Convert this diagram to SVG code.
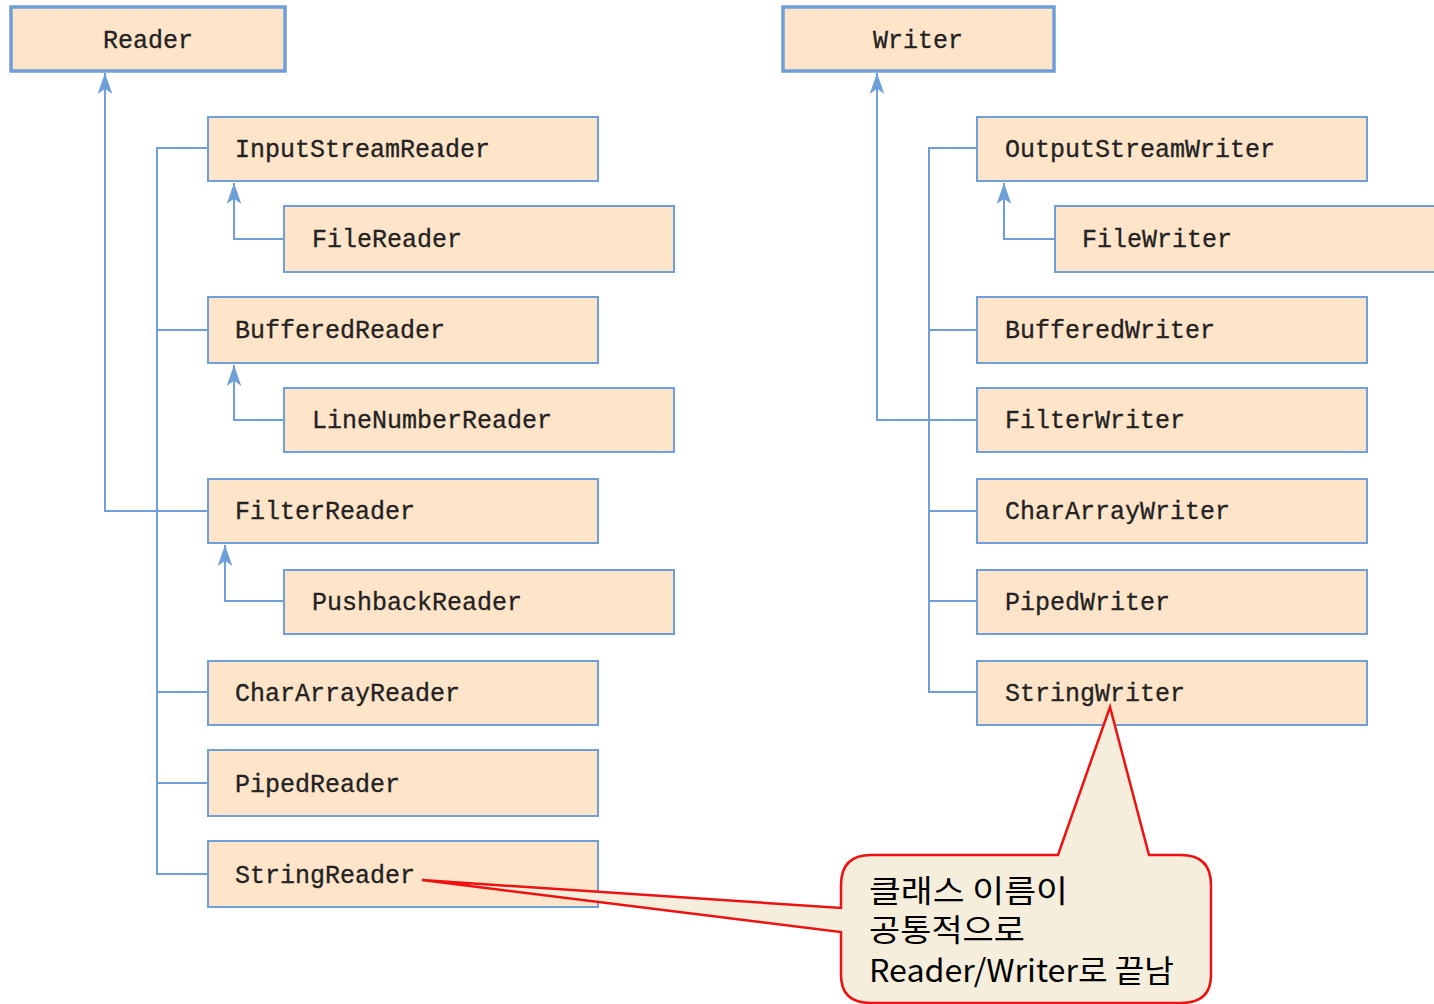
<svg xmlns="http://www.w3.org/2000/svg" width="1434" height="1004" viewBox="0 0 1434 1004">
<style>
.box{fill:#FEE4C9;stroke:#6F9FD8;stroke-width:2}
.root{fill:#FEE4C9;stroke:#6F9FD8;stroke-width:3.5}
.lbl{font-family:"Liberation Mono","DejaVu Sans Mono",monospace;font-size:25px;fill:#222;stroke:#222;stroke-width:0.3}
.conn{fill:none;stroke:#6F9FD8;stroke-width:2}
.note{font-family:"Noto Sans CJK KR","Noto Sans",sans-serif;font-size:31px;fill:#000}
</style>
<defs>
<marker id="arr" viewBox="0 0 20 14" refX="20" refY="7" markerWidth="21" markerHeight="15" markerUnits="userSpaceOnUse" orient="auto">
<path d="M0,0 L20,7 L0,14 L5,7 Z" fill="#6F9FD8"/>
</marker>
</defs>
<g id="connectors">
<path class="conn" d="M208,511 H105 V73" marker-end="url(#arr)"/>
<path class="conn" d="M208,148 H157 V874 H208"/>
<path class="conn" d="M157,330 H208 M157,692 H208 M157,783 H208"/>
<path class="conn" d="M284,239 H234 V183" marker-end="url(#arr)"/>
<path class="conn" d="M284,420 H234 V365" marker-end="url(#arr)"/>
<path class="conn" d="M284,601 H225 V545" marker-end="url(#arr)"/>
<path class="conn" d="M977,420 H877 V73" marker-end="url(#arr)"/>
<path class="conn" d="M977,148 H929 V692 H977"/>
<path class="conn" d="M929,330 H977 M929,511 H977 M929,601 H977"/>
<path class="conn" d="M1055,239 H1004 V183" marker-end="url(#arr)"/>
</g>
<g id="Reader"><rect class="root" x="11" y="7" width="274" height="64"/><text class="lbl" x="148" y="48" text-anchor="middle">Reader</text></g>
<g id="InputStreamReader"><rect class="box" x="208" y="117" width="390" height="64"/><text class="lbl" x="235" y="157">InputStreamReader</text></g>
<g id="FileReader"><rect class="box" x="284" y="206" width="390" height="66"/><text class="lbl" x="312" y="247">FileReader</text></g>
<g id="BufferedReader"><rect class="box" x="208" y="297" width="390" height="66"/><text class="lbl" x="235" y="338">BufferedReader</text></g>
<g id="LineNumberReader"><rect class="box" x="284" y="388" width="390" height="64"/><text class="lbl" x="312" y="428">LineNumberReader</text></g>
<g id="FilterReader"><rect class="box" x="208" y="479" width="390" height="64"/><text class="lbl" x="235" y="519">FilterReader</text></g>
<g id="PushbackReader"><rect class="box" x="284" y="570" width="390" height="64"/><text class="lbl" x="312" y="610">PushbackReader</text></g>
<g id="CharArrayReader"><rect class="box" x="208" y="661" width="390" height="64"/><text class="lbl" x="235" y="701">CharArrayReader</text></g>
<g id="PipedReader"><rect class="box" x="208" y="750" width="390" height="66"/><text class="lbl" x="235" y="792">PipedReader</text></g>
<g id="StringReader"><rect class="box" x="208" y="841" width="390" height="66"/><text class="lbl" x="235" y="883">StringReader</text></g>
<g id="Writer"><rect class="root" x="783" y="7" width="271" height="64"/><text class="lbl" x="918" y="48" text-anchor="middle">Writer</text></g>
<g id="OutputStreamWriter"><rect class="box" x="977" y="117" width="390" height="64"/><text class="lbl" x="1005" y="157">OutputStreamWriter</text></g>
<g id="FileWriter"><rect class="box" x="1055" y="206" width="390" height="66"/><text class="lbl" x="1082" y="247">FileWriter</text></g>
<g id="BufferedWriter"><rect class="box" x="977" y="297" width="390" height="66"/><text class="lbl" x="1005" y="338">BufferedWriter</text></g>
<g id="FilterWriter"><rect class="box" x="977" y="388" width="390" height="64"/><text class="lbl" x="1005" y="428">FilterWriter</text></g>
<g id="CharArrayWriter"><rect class="box" x="977" y="479" width="390" height="64"/><text class="lbl" x="1005" y="519">CharArrayWriter</text></g>
<g id="PipedWriter"><rect class="box" x="977" y="570" width="390" height="64"/><text class="lbl" x="1005" y="610">PipedWriter</text></g>
<g id="StringWriter"><rect class="box" x="977" y="661" width="390" height="64"/><text class="lbl" x="1005" y="701">StringWriter</text></g>
<g id="callout">
<path d="M871,855 L1058,855 L1110,707 L1149,855 L1181,855 Q1211,855 1211,885 L1211,975 Q1211,1003 1181,1003 L871,1003 Q841,1003 841,975 L841,932 L422,880 L841,908 L841,885 Q841,855 871,855 Z" fill="#F6EEDD" stroke="#EE1111" stroke-width="2.5" stroke-linejoin="miter"/>
<text class="note" x="869" y="902" textLength="199" lengthAdjust="spacingAndGlyphs">클래스 이름이</text>
<text class="note" x="869" y="941" textLength="156" lengthAdjust="spacingAndGlyphs">공통적으로</text>
<text class="note" x="869" y="982" textLength="305" lengthAdjust="spacingAndGlyphs">Reader/Writer로 끝남</text>
</g>
</svg>
